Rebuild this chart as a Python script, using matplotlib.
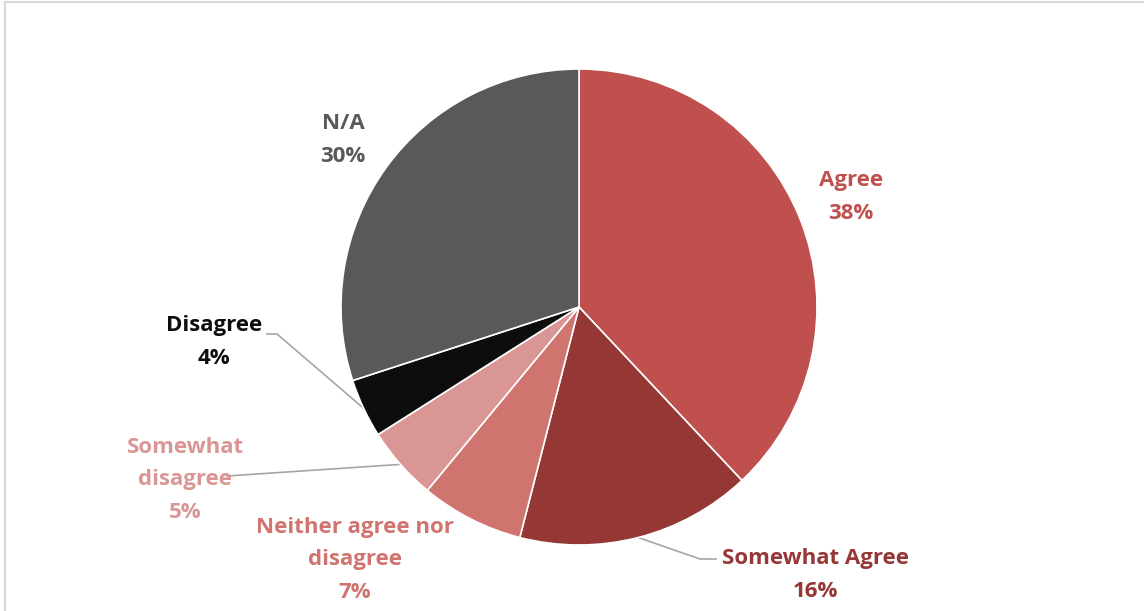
import numpy as np
import matplotlib.pyplot as plt
from matplotlib.lines import Line2D

# Survey responses (percent of respondents)
labels = ["Agree", "Somewhat Agree", "Neither agree nor\ndisagree",
          "Somewhat\ndisagree", "Disagree", "N/A"]
shares = [38, 16, 7, 5, 4, 30]
colors = ["#C0504D", "#953735", "#D07470", "#DA9694", "#0D0D0D", "#595959"]
text_colors = ["#C0504D", "#953735", "#D07470", "#DA9694", "#0D0D0D", "#595959"]

W, H = 1144, 611
fig = plt.figure(figsize=(W / 100, H / 100), dpi=100)
ax = fig.add_axes([0, 0, 1, 1])
ax.set_xlim(0, W)
ax.set_ylim(0, H)
ax.set_aspect("equal")
ax.axis("off")

cx, cy, r = 579, 304, 238
wedges, _ = ax.pie(shares, colors=colors, startangle=90, counterclock=False,
                   center=(cx, cy), radius=r,
                   wedgeprops=dict(edgecolor="white", linewidth=1.2))
ax.set_xlim(0, W)
ax.set_ylim(0, H)

# label block centres and leader line elbows
label_pos = [(851, 414), (815, 36), (355, 51), (185, 131), (214, 269), (343, 471)]
leaders = {1: [(700, 52), (716, 52)], 3: [(227, 135)], 4: [(277, 277), (267, 277)]}

cum = np.cumsum([0] + shares)
for i, (lab, val) in enumerate(zip(labels, shares)):
    x, y = label_pos[i]
    ax.text(x, y, f"{lab}\n{val}%", ha="center", va="center", color=text_colors[i],
            fontsize=16, fontweight="bold", family="Open Sans", linespacing=1.7)
    if i in leaders:
        mid = (cum[i] + cum[i + 1]) / 2 / 100 * 360
        ang = np.deg2rad(90 - mid)
        pts = [(cx + r * np.cos(ang), cy + r * np.sin(ang))] + leaders[i]
        xs, ys = zip(*pts)
        ax.plot(xs, ys, color="#A6A6A6", lw=1.2, zorder=0.5)

# chart area frame
fig.add_artist(Line2D([5 / W, 1], [1 - 2 / H, 1 - 2 / H], color="#D9D9D9", lw=1.5))
fig.add_artist(Line2D([5 / W, 5 / W], [0, 1 - 2 / H], color="#D9D9D9", lw=1.5))

fig.savefig("out.png", dpi=100, facecolor="white")
